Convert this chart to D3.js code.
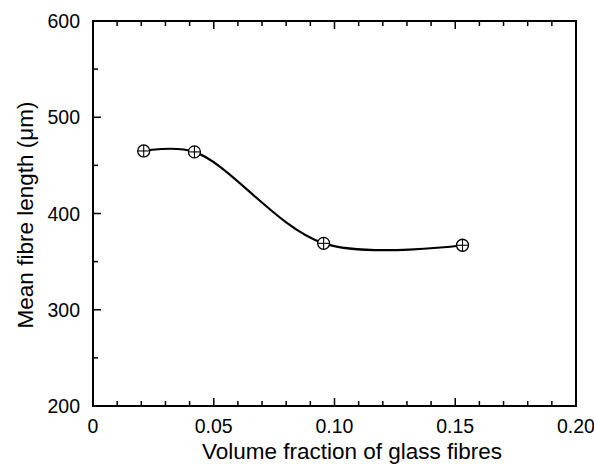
<!DOCTYPE html>
<html>
<head>
<meta charset="utf-8">
<script src="https://cdn.jsdelivr.net/npm/d3@7"></script>
<style>
  html, body { margin: 0; padding: 0; background: #fff; }
  svg text { font-family: "Liberation Sans", Arial, Helvetica, sans-serif; fill: #000; }
</style>
</head>
<body>
<svg id="chart" width="594" height="465"></svg>
<script>
// Mean fibre length against volume fraction of glass fibres
const volumeFraction = [0.021, 0.042, 0.0955, 0.153];
const meanLength = [465, 464, 369, 367];
const xTickValues = [0, 0.05, 0.10, 0.15, 0.20];
const xTickLabels = ["0", "0.05", "0.10", "0.15", "0.20"];
const yTickValues = [200, 300, 400, 500, 600];
const xTitle = "Volume fraction of glass fibres";
const yTitle = "Mean fibre length (\u03bcm)";

const svg = d3.select("#chart");
const margin = { left: 93, top: 21, right: 18, bottom: 59 };
const W = 594, H = 465;
const x = d3.scaleLinear().domain([0, 0.20]).range([margin.left, W - margin.right]);
const y = d3.scaleLinear().domain([200, 600]).range([H - margin.bottom, margin.top]);

const tickFont = 19.5;
const titleFont = 22.5;

// frame
svg.append("rect")
  .attr("x", x(0)).attr("y", y(600))
  .attr("width", x(0.20) - x(0)).attr("height", y(200) - y(600))
  .attr("fill", "none").attr("stroke", "#000").attr("stroke-width", 2);

// minor + major x ticks (bottom and top, inward)
const xMinor = d3.range(0, 21).map(i => i / 100);
xMinor.forEach(v => {
  const major = Math.abs((v * 100) % 5) < 1e-6;
  const len = major ? 8 : 5;
  svg.append("line").attr("x1", x(v)).attr("x2", x(v))
    .attr("y1", y(200)).attr("y2", y(200) - len)
    .attr("stroke", "#000").attr("stroke-width", 1.5);
  svg.append("line").attr("x1", x(v)).attr("x2", x(v))
    .attr("y1", y(600)).attr("y2", y(600) + len)
    .attr("stroke", "#000").attr("stroke-width", 1.5);
});

// y ticks (left, inward)
d3.range(200, 601, 50).forEach(v => {
  const major = v % 100 === 0;
  const len = major ? 8 : 5;
  svg.append("line").attr("x1", x(0)).attr("x2", x(0) + len)
    .attr("y1", y(v)).attr("y2", y(v))
    .attr("stroke", "#000").attr("stroke-width", 1.5);
});

// tick labels
svg.selectAll(".xl").data(xTickValues).enter().append("text")
  .attr("x", d => x(d)).attr("y", y(200) + 27)
  .attr("text-anchor", "middle").attr("font-size", tickFont)
  .text((d, i) => xTickLabels[i]);
svg.selectAll(".yl").data(yTickValues).enter().append("text")
  .attr("x", x(0) - 13).attr("y", d => y(d) + 7)
  .attr("text-anchor", "end").attr("font-size", tickFont)
  .text(d => d);

// axis titles
svg.append("text").attr("x", 352).attr("y", 459)
  .attr("text-anchor", "middle").attr("font-size", titleFont).text(xTitle);
svg.append("text")
  .attr("transform", `translate(33, 215) rotate(-90)`)
  .attr("text-anchor", "middle").attr("font-size", titleFont).text(yTitle);

// smooth curve through the data
const pts = volumeFraction.map((v, i) => [v, meanLength[i]]);
const line = d3.line().x(d => x(d[0])).y(d => y(d[1])).curve(d3.curveCatmullRom.alpha(0.5));
svg.append("path").datum(pts).attr("d", line)
  .attr("fill", "none").attr("stroke", "#000").attr("stroke-width", 2.2);

// markers: circle with cross
const r = 6;
const g = svg.selectAll(".pt").data(pts).enter().append("g")
  .attr("transform", d => `translate(${x(d[0])},${y(d[1])})`);
g.append("circle").attr("r", r).attr("fill", "#fff").attr("stroke", "#000").attr("stroke-width", 1.3);
g.append("line").attr("x1", -r).attr("x2", r).attr("stroke", "#000").attr("stroke-width", 1.1);
g.append("line").attr("y1", -r).attr("y2", r).attr("stroke", "#000").attr("stroke-width", 1.1);
</script>
</body>
</html>
